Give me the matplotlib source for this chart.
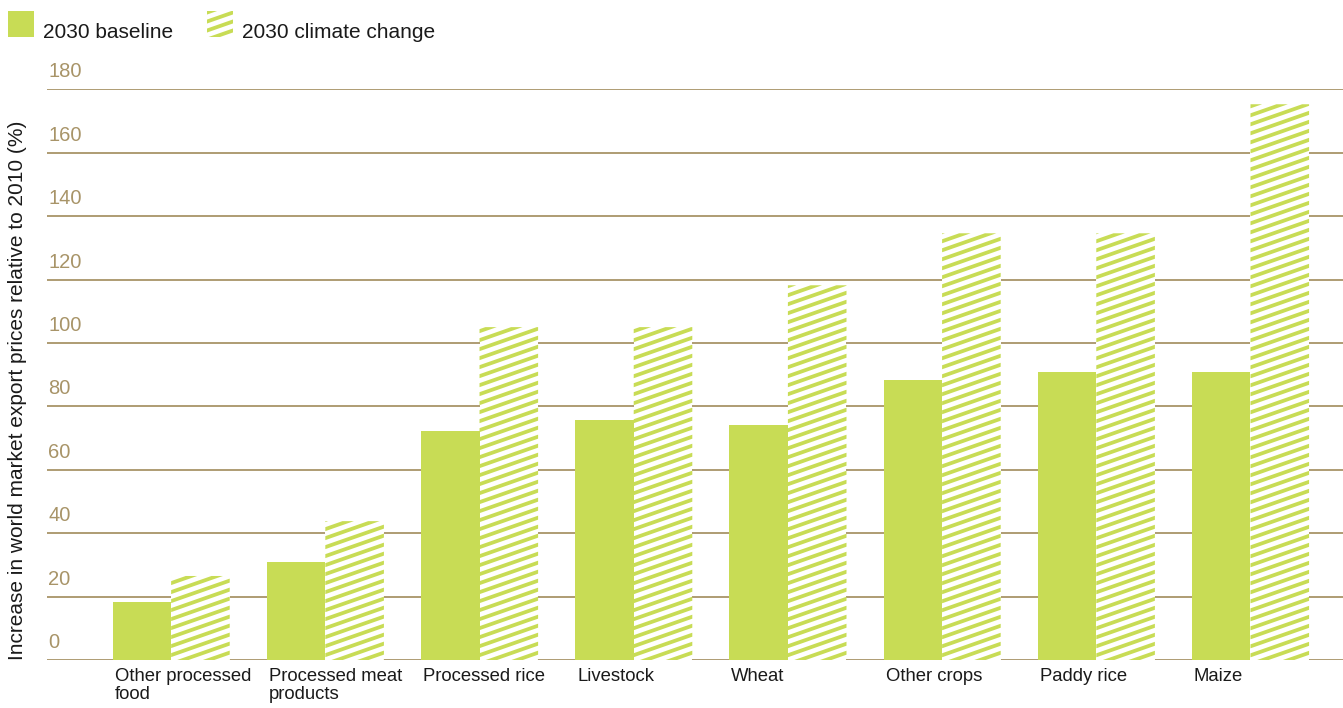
import numpy as np
import matplotlib
matplotlib.use("Agg")
from matplotlib import pyplot as plt
from matplotlib.patches import Rectangle, Polygon
from matplotlib.transforms import IdentityTransform

# ========== Datos ==========
categorias = ['Other processed\nfood', 'Processed meat\nproducts', 'Processed rice', 'Livestock',
              'Wheat', 'Other crops', 'Paddy rice', 'Maize']
baseline = [18.3, 30.9, 72.2, 75.7, 74.1, 88.3, 90.8, 90.8]
climate = [26.5, 43.8, 105.0, 105.0, 118.2, 134.6, 134.6, 175.3]
y_ticks = [0, 20, 40, 60, 80, 100, 120, 140, 160, 180]

# ========== Estilo ==========
verde = '#c8dc55'
tan = '#a89468'
texto = '#1a1a1a'
plt.rcParams['font.family'] = ['Liberation Sans', 'DejaVu Sans']

fig = plt.figure(figsize=(13.43, 7.08), dpi=100)
ax = fig.add_axes([0.035, 0.0678, 0.965, 0.806])

x = np.arange(len(categorias))
w = 0.38
bars_b = ax.bar(x - w / 2, baseline, width=w, color=verde, zorder=3, linewidth=0)
bars_c = ax.bar(x + w / 2, climate, width=w, color='white', zorder=3, linewidth=0)

ax.set_xlim(-0.805, 7.6)
ax.set_ylim(0, 180)
ax.set_yticks(y_ticks)
ax.grid(axis='y', color=tan, linewidth=1.3, zorder=0)
ax.tick_params(length=0, labelleft=False, labelbottom=False)
for s in ax.spines.values():
    s.set_visible(False)

# etiquetas del eje y sobre las lineas
for v in y_ticks:
    ax.annotate(str(v), xy=(0, v), xycoords=('axes fraction', 'data'), xytext=(1, 8),
                textcoords='offset pixels', ha='left', va='bottom', color=tan, fontsize=14.5)

# etiquetas de categorias
for rect, cat in zip(bars_b, categorias):
    ax.annotate(cat, xy=(rect.get_x(), 0), xycoords='data', xytext=(2, -8),
                textcoords='offset pixels', ha='left', va='top', color=texto,
                fontsize=13.3, linespacing=1.08)

fig.text(18 / 1343, 0.449, 'Increase in world market export prices relative to 2010 (%)',
         rotation=90, ha='center', va='center', fontsize=15, color=texto)


# ---------- rayado diagonal ----------
def recortar(poly, x0, y0, x1, y1):
    # Sutherland-Hodgman contra un rectangulo
    def clip(pts, inside, inter):
        out = []
        n = len(pts)
        for i in range(n):
            p, q = pts[i], pts[(i + 1) % n]
            ip, iq = inside(p), inside(q)
            if ip:
                out.append(p)
                if not iq:
                    out.append(inter(p, q))
            elif iq:
                out.append(inter(p, q))
        return out

    def ix(xv):
        return lambda p, q: (xv, p[1] + (q[1] - p[1]) * (xv - p[0]) / (q[0] - p[0]))

    def iy(yv):
        return lambda p, q: (p[0] + (q[0] - p[0]) * (yv - p[1]) / (q[1] - p[1]), yv)

    pts = poly
    for inside, inter in [(lambda p: p[0] >= x0, ix(x0)), (lambda p: p[0] <= x1, ix(x1)),
                          (lambda p: p[1] >= y0, iy(y0)), (lambda p: p[1] <= y1, iy(y1))]:
        if not pts:
            break
        pts = clip(pts, inside, inter)
    return pts


def rayar(rect_px, spacing=9.0, slope=0.35, grosor=4.0, color=verde, destino=None):
    x0, y0, x1, y1 = rect_px
    k0 = int(np.floor((y0 - slope * x1) / spacing)) - 1
    k1 = int(np.ceil((y1 - slope * x0) / spacing)) + 1
    for k in range(k0, k1 + 1):
        c = k * spacing
        banda = [(x0 - 2, slope * (x0 - 2) + c), (x1 + 2, slope * (x1 + 2) + c),
                 (x1 + 2, slope * (x1 + 2) + c + grosor), (x0 - 2, slope * (x0 - 2) + c + grosor)]
        pts = recortar(banda, x0, y0, x1, y1)
        if len(pts) < 3:
            continue
        pg = Polygon(pts, closed=True, transform=IdentityTransform(), facecolor=color,
                     edgecolor='none', zorder=4)
        if destino is not None:
            destino.add_artist(pg)
        else:
            fig.patches.append(pg)
            pg.set_figure(fig)


fig.canvas.draw()
for rect in bars_c:
    bb = rect.get_window_extent()
    rayar((bb.x0, bb.y0, bb.x1, bb.y1), destino=ax)

# ---------- leyenda ----------
H = 708.0
W = 1343.0
sq1 = Rectangle((8 / W, (H - 37) / H), 26 / W, 26 / H, transform=fig.transFigure,
                facecolor=verde, edgecolor='none')
fig.patches.append(sq1)
fig.text(43 / W, (H - 32) / H, '2030 baseline', ha='left', va='center', fontsize=15, color=texto)
rayar((207, H - 37, 233, H - 11))
fig.text(242 / W, (H - 32) / H, '2030 climate change', ha='left', va='center', fontsize=15, color=texto)

fig.savefig('out.png', dpi=100)
